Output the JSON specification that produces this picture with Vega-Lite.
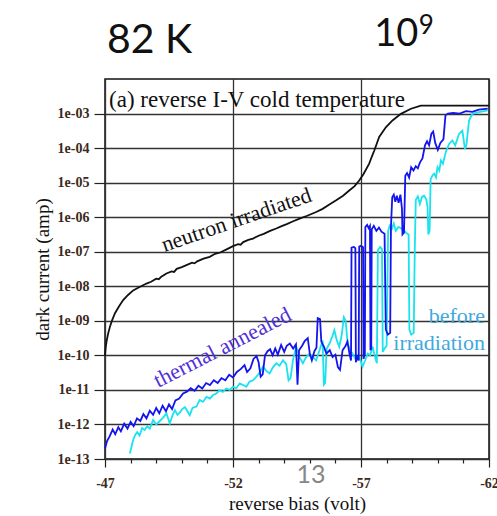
{
  "$schema": "https://vega.github.io/schema/vega-lite/v6.json",
  "autosize": {"type": "none"},
  "padding": {"left": 105, "top": 79, "right": 8, "bottom": 57},
  "width": 384,
  "height": 380,
  "background": "white",
  "config": {
    "view": {"stroke": "#111", "strokeWidth": 1.5},
    "axis": {"labelOverlap": false, "labelFlush": false}
  },
  "datasets": {
    "neutron": [
      {"bias": -47.00, "current": 1.0e-10}, {"bias": -47.03, "current": 1.8e-10}, {"bias": -47.07, "current": 2.75e-10},
      {"bias": -47.12, "current": 4.2e-10}, {"bias": -47.19, "current": 6.6e-10}, {"bias": -47.28, "current": 1.05e-9},
      {"bias": -47.39, "current": 1.66e-9}, {"bias": -47.55, "current": 2.63e-9}, {"bias": -47.71, "current": 3.98e-9},
      {"bias": -47.90, "current": 5.6e-9}, {"bias": -48.10, "current": 7.6e-9}, {"bias": -48.35, "current": 9.5e-9},
      {"bias": -48.62, "current": 1.2e-8}, {"bias": -48.80, "current": 1.35e-8}, {"bias": -49.00, "current": 1.66e-8},
      {"bias": -49.10, "current": 1.6e-8}, {"bias": -49.20, "current": 1.9e-8}, {"bias": -49.40, "current": 2.35e-8},
      {"bias": -49.60, "current": 2.7e-8}, {"bias": -49.70, "current": 2.6e-8}, {"bias": -49.80, "current": 3.2e-8},
      {"bias": -50.00, "current": 3.6e-8}, {"bias": -50.18, "current": 4.1e-8}, {"bias": -50.40, "current": 4.8e-8},
      {"bias": -50.50, "current": 4.6e-8}, {"bias": -50.60, "current": 5.25e-8}, {"bias": -50.85, "current": 6.3e-8},
      {"bias": -51.09, "current": 7.1e-8}, {"bias": -51.30, "current": 8.7e-8}, {"bias": -51.50, "current": 9.5e-8},
      {"bias": -51.75, "current": 1.17e-7}, {"bias": -52.00, "current": 1.45e-7}, {"bias": -52.20, "current": 1.66e-7},
      {"bias": -52.30, "current": 1.6e-7}, {"bias": -52.40, "current": 1.9e-7}, {"bias": -52.60, "current": 2.2e-7},
      {"bias": -52.78, "current": 2.4e-7}, {"bias": -53.00, "current": 2.9e-7}, {"bias": -53.20, "current": 3.3e-7},
      {"bias": -53.45, "current": 4.0e-7}, {"bias": -53.69, "current": 4.7e-7}, {"bias": -53.90, "current": 5.5e-7},
      {"bias": -54.10, "current": 6.3e-7}, {"bias": -54.35, "current": 7.6e-7}, {"bias": -54.60, "current": 9.1e-7},
      {"bias": -54.90, "current": 1.1e-6}, {"bias": -55.25, "current": 1.41e-6}, {"bias": -55.50, "current": 1.74e-6},
      {"bias": -55.75, "current": 2.3e-6}, {"bias": -56.03, "current": 3.1e-6}, {"bias": -56.30, "current": 4.2e-6},
      {"bias": -56.54, "current": 5.9e-6}, {"bias": -56.75, "current": 7.9e-6}, {"bias": -56.93, "current": 1.15e-5},
      {"bias": -57.10, "current": 1.78e-5}, {"bias": -57.32, "current": 3.55e-5}, {"bias": -57.42, "current": 5.6e-5},
      {"bias": -57.52, "current": 8.5e-5}, {"bias": -57.71, "current": 2.1e-4}, {"bias": -57.97, "current": 4.0e-4},
      {"bias": -58.23, "current": 6.3e-4}, {"bias": -58.56, "current": 9.8e-4}, {"bias": -58.95, "current": 1.38e-3},
      {"bias": -59.34, "current": 1.7e-3}, {"bias": -62.00, "current": 1.7e-3}
    ],
    "annealed": [
      {"bias": -47.00, "current": 2.0e-13}, {"bias": -47.08, "current": 3.3e-13}, {"bias": -47.18, "current": 4.5e-13},
      {"bias": -47.30, "current": 7.1e-13}, {"bias": -47.40, "current": 5.2e-13}, {"bias": -47.52, "current": 8.3e-13},
      {"bias": -47.62, "current": 6.3e-13}, {"bias": -47.75, "current": 1.05e-12}, {"bias": -47.88, "current": 7.6e-13},
      {"bias": -48.00, "current": 1.2e-12}, {"bias": -48.12, "current": 8.9e-13}, {"bias": -48.25, "current": 1.5e-12},
      {"bias": -48.38, "current": 1.26e-12}, {"bias": -48.50, "current": 2.0e-12}, {"bias": -48.62, "current": 1.5e-12},
      {"bias": -48.75, "current": 2.5e-12}, {"bias": -48.88, "current": 1.9e-12}, {"bias": -49.00, "current": 3.0e-12},
      {"bias": -49.12, "current": 2.1e-12}, {"bias": -49.25, "current": 3.5e-12}, {"bias": -49.38, "current": 2.4e-12},
      {"bias": -49.50, "current": 3.8e-12}, {"bias": -49.62, "current": 2.8e-12}, {"bias": -49.75, "current": 5.0e-12},
      {"bias": -49.90, "current": 5.6e-12}, {"bias": -50.05, "current": 7.9e-12}, {"bias": -50.20, "current": 8.9e-12},
      {"bias": -50.35, "current": 1.12e-11}, {"bias": -50.50, "current": 9.5e-12}, {"bias": -50.65, "current": 1.32e-11},
      {"bias": -50.80, "current": 1.1e-11}, {"bias": -50.95, "current": 1.58e-11}, {"bias": -51.10, "current": 1.38e-11},
      {"bias": -51.25, "current": 1.9e-11}, {"bias": -51.40, "current": 1.58e-11}, {"bias": -51.55, "current": 2.2e-11},
      {"bias": -51.70, "current": 1.9e-11}, {"bias": -51.85, "current": 2.75e-11}, {"bias": -52.00, "current": 2.3e-11},
      {"bias": -52.15, "current": 3.3e-11}, {"bias": -52.30, "current": 4.0e-11}, {"bias": -52.45, "current": 5.2e-11},
      {"bias": -52.55, "current": 3.3e-11}, {"bias": -52.68, "current": 4.2e-11}, {"bias": -52.80, "current": 7.9e-11},
      {"bias": -52.92, "current": 9.5e-11}, {"bias": -53.00, "current": 6.3e-11}, {"bias": -53.08, "current": 2.4e-11},
      {"bias": -53.16, "current": 2.8e-11}, {"bias": -53.25, "current": 1.0e-10}, {"bias": -53.35, "current": 1.32e-10},
      {"bias": -53.45, "current": 1.5e-10}, {"bias": -53.55, "current": 1.0e-10}, {"bias": -53.65, "current": 1.58e-10},
      {"bias": -53.75, "current": 1.05e-10}, {"bias": -53.88, "current": 2.0e-10}, {"bias": -54.00, "current": 1.26e-10},
      {"bias": -54.10, "current": 1.9e-10}, {"bias": -54.22, "current": 2.2e-10}, {"bias": -54.35, "current": 1.58e-10},
      {"bias": -54.46, "current": 2.1e-10}, {"bias": -54.52, "current": 1.41e-11}, {"bias": -54.58, "current": 1.41e-10},
      {"bias": -54.70, "current": 1.9e-10}, {"bias": -54.80, "current": 2.6e-10}, {"bias": -54.92, "current": 3.16e-10},
      {"bias": -55.00, "current": 1.12e-10}, {"bias": -55.08, "current": 7.2e-11}, {"bias": -55.18, "current": 1.32e-10},
      {"bias": -55.26, "current": 1.66e-10}, {"bias": -55.31, "current": 1.2e-9}, {"bias": -55.40, "current": 1.12e-9},
      {"bias": -55.45, "current": 2.5e-10}, {"bias": -55.55, "current": 1.78e-10}, {"bias": -55.65, "current": 1.12e-10},
      {"bias": -55.78, "current": 1.41e-10}, {"bias": -55.89, "current": 8.9e-11}, {"bias": -56.00, "current": 1.05e-10},
      {"bias": -56.10, "current": 4.5e-11}, {"bias": -56.18, "current": 3.8e-11}, {"bias": -56.28, "current": 1.41e-10},
      {"bias": -56.40, "current": 1.9e-10}, {"bias": -56.47, "current": 2.5e-10}, {"bias": -56.55, "current": 1.12e-10},
      {"bias": -56.61, "current": 7.1e-11}, {"bias": -56.63, "current": 1.32e-7}, {"bias": -56.72, "current": 1.38e-7},
      {"bias": -56.78, "current": 1.26e-7}, {"bias": -56.80, "current": 6.3e-11}, {"bias": -56.86, "current": 8.9e-11},
      {"bias": -56.91, "current": 7.1e-11}, {"bias": -56.93, "current": 1.41e-7}, {"bias": -57.00, "current": 1.48e-7},
      {"bias": -57.08, "current": 1.35e-7}, {"bias": -57.10, "current": 7.9e-11}, {"bias": -57.15, "current": 1.12e-10},
      {"bias": -57.17, "current": 5.2e-7}, {"bias": -57.24, "current": 6.0e-7}, {"bias": -57.30, "current": 4.8e-7},
      {"bias": -57.35, "current": 5.6e-7}, {"bias": -57.37, "current": 1.41e-10}, {"bias": -57.40, "current": 1.58e-10},
      {"bias": -57.42, "current": 4.5e-7}, {"bias": -57.50, "current": 5.6e-7}, {"bias": -57.60, "current": 4.0e-7},
      {"bias": -57.70, "current": 5.0e-7}, {"bias": -57.80, "current": 3.8e-7}, {"bias": -57.92, "current": 3.3e-7},
      {"bias": -57.97, "current": 5.6e-10}, {"bias": -58.05, "current": 4.0e-10}, {"bias": -58.14, "current": 4.5e-10},
      {"bias": -58.17, "current": 5.2e-7}, {"bias": -58.22, "current": 3.8e-6}, {"bias": -58.28, "current": 4.5e-6},
      {"bias": -58.34, "current": 2.8e-6}, {"bias": -58.40, "current": 4.2e-6}, {"bias": -58.47, "current": 2.6e-6},
      {"bias": -58.54, "current": 4.5e-6}, {"bias": -58.60, "current": 1.78e-6}, {"bias": -58.62, "current": 3.16e-7},
      {"bias": -58.68, "current": 3.55e-7}, {"bias": -58.73, "current": 1.58e-5}, {"bias": -58.80, "current": 1.9e-5},
      {"bias": -58.88, "current": 1.41e-5}, {"bias": -58.96, "current": 2.8e-5}, {"bias": -59.05, "current": 2.24e-5},
      {"bias": -59.14, "current": 3.0e-5}, {"bias": -59.22, "current": 2.6e-5}, {"bias": -59.30, "current": 3.8e-5},
      {"bias": -59.40, "current": 5.0e-5}, {"bias": -59.50, "current": 1.2e-4}, {"bias": -59.58, "current": 1.58e-4},
      {"bias": -59.66, "current": 1.2e-4}, {"bias": -59.75, "current": 2.6e-4}, {"bias": -59.82, "current": 3.0e-4},
      {"bias": -59.90, "current": 1.41e-4}, {"bias": -60.00, "current": 8.9e-5}, {"bias": -60.10, "current": 1.41e-4},
      {"bias": -60.22, "current": 1.78e-4}, {"bias": -60.30, "current": 8.9e-4}, {"bias": -60.40, "current": 1.0e-3},
      {"bias": -60.60, "current": 1.05e-3}, {"bias": -60.85, "current": 1.0e-3}, {"bias": -61.10, "current": 1.17e-3},
      {"bias": -61.35, "current": 1.12e-3}, {"bias": -61.60, "current": 1.29e-3}, {"bias": -61.95, "current": 1.38e-3}
    ],
    "before": [
      {"bias": -47.97, "current": 1.45e-13}, {"bias": -48.05, "current": 2.5e-13}, {"bias": -48.10, "current": 3.55e-13},
      {"bias": -48.18, "current": 5.0e-13}, {"bias": -48.26, "current": 6.0e-13}, {"bias": -48.35, "current": 4.8e-13},
      {"bias": -48.45, "current": 7.9e-13}, {"bias": -48.55, "current": 6.9e-13}, {"bias": -48.65, "current": 8.9e-13},
      {"bias": -48.75, "current": 7.6e-13}, {"bias": -48.88, "current": 1.35e-12}, {"bias": -49.00, "current": 1.0e-12},
      {"bias": -49.14, "current": 1.26e-12}, {"bias": -49.27, "current": 1.58e-12}, {"bias": -49.40, "current": 2.1e-12},
      {"bias": -49.53, "current": 1.07e-12}, {"bias": -49.63, "current": 1.78e-12}, {"bias": -49.73, "current": 2.6e-12},
      {"bias": -49.83, "current": 1.9e-12}, {"bias": -49.92, "current": 2.2e-12}, {"bias": -50.02, "current": 2.8e-12},
      {"bias": -50.12, "current": 3.2e-12}, {"bias": -50.22, "current": 2.4e-12}, {"bias": -50.31, "current": 1.86e-12},
      {"bias": -50.42, "current": 3.0e-12}, {"bias": -50.57, "current": 3.3e-12}, {"bias": -50.70, "current": 5.1e-12},
      {"bias": -50.83, "current": 4.5e-12}, {"bias": -50.96, "current": 6.3e-12}, {"bias": -51.10, "current": 5.6e-12},
      {"bias": -51.22, "current": 7.1e-12}, {"bias": -51.35, "current": 7.9e-12}, {"bias": -51.48, "current": 9.8e-12},
      {"bias": -51.60, "current": 8.7e-12}, {"bias": -51.74, "current": 1.1e-11}, {"bias": -51.87, "current": 1.0e-11},
      {"bias": -52.00, "current": 1.23e-11}, {"bias": -52.13, "current": 1.12e-11}, {"bias": -52.26, "current": 1.55e-11},
      {"bias": -52.40, "current": 1.38e-11}, {"bias": -52.52, "current": 1.23e-11}, {"bias": -52.65, "current": 1.74e-11},
      {"bias": -52.78, "current": 1.9e-11}, {"bias": -52.91, "current": 2.4e-11}, {"bias": -53.04, "current": 3.16e-11},
      {"bias": -53.17, "current": 4.7e-11}, {"bias": -53.30, "current": 3.55e-11}, {"bias": -53.43, "current": 3.0e-11},
      {"bias": -53.56, "current": 4.5e-11}, {"bias": -53.69, "current": 5.9e-11}, {"bias": -53.82, "current": 5.0e-11},
      {"bias": -53.95, "current": 7.2e-11}, {"bias": -54.08, "current": 5.6e-11}, {"bias": -54.17, "current": 1.9e-11},
      {"bias": -54.25, "current": 2.24e-11}, {"bias": -54.35, "current": 7.9e-11}, {"bias": -54.47, "current": 1.78e-10},
      {"bias": -54.60, "current": 8.9e-11}, {"bias": -54.73, "current": 5.9e-11}, {"bias": -54.86, "current": 8.9e-11},
      {"bias": -54.99, "current": 1.12e-10}, {"bias": -55.12, "current": 8.9e-11}, {"bias": -55.25, "current": 7.2e-11},
      {"bias": -55.38, "current": 1.41e-10}, {"bias": -55.50, "current": 2.75e-10}, {"bias": -55.55, "current": 1.41e-11},
      {"bias": -55.60, "current": 1.58e-11}, {"bias": -55.66, "current": 1.58e-10}, {"bias": -55.77, "current": 2.2e-10},
      {"bias": -55.88, "current": 3.55e-10}, {"bias": -55.96, "current": 5.4e-10}, {"bias": -56.05, "current": 2.8e-10},
      {"bias": -56.15, "current": 1.78e-10}, {"bias": -56.25, "current": 4.0e-10}, {"bias": -56.33, "current": 1.26e-9},
      {"bias": -56.40, "current": 1.0e-9}, {"bias": -56.48, "current": 2.2e-10}, {"bias": -56.58, "current": 1.41e-10},
      {"bias": -56.67, "current": 1.12e-10}, {"bias": -56.81, "current": 7.2e-11}, {"bias": -56.94, "current": 8.9e-11},
      {"bias": -57.06, "current": 4.7e-11}, {"bias": -57.16, "current": 7.1e-11}, {"bias": -57.26, "current": 1.12e-10},
      {"bias": -57.36, "current": 1.0e-10}, {"bias": -57.45, "current": 1.78e-10}, {"bias": -57.55, "current": 8.9e-11},
      {"bias": -57.62, "current": 5.9e-11}, {"bias": -57.66, "current": 1.12e-7}, {"bias": -57.75, "current": 1.38e-7},
      {"bias": -57.82, "current": 1.2e-7}, {"bias": -57.85, "current": 1.26e-10}, {"bias": -57.92, "current": 1.58e-10},
      {"bias": -58.00, "current": 1.9e-10}, {"bias": -58.06, "current": 4.0e-7}, {"bias": -58.12, "current": 5.6e-7},
      {"bias": -58.20, "current": 4.5e-7}, {"bias": -58.28, "current": 6.6e-7}, {"bias": -58.36, "current": 4.0e-7},
      {"bias": -58.46, "current": 5.2e-7}, {"bias": -58.56, "current": 4.8e-7}, {"bias": -58.66, "current": 4.2e-7},
      {"bias": -58.76, "current": 3.55e-7}, {"bias": -58.86, "current": 3.16e-7}, {"bias": -58.89, "current": 5.6e-10},
      {"bias": -58.96, "current": 4.0e-10}, {"bias": -59.06, "current": 4.5e-10}, {"bias": -59.10, "current": 1.12e-7},
      {"bias": -59.14, "current": 3.16e-6}, {"bias": -59.22, "current": 4.0e-6}, {"bias": -59.30, "current": 2.4e-6},
      {"bias": -59.38, "current": 3.8e-6}, {"bias": -59.46, "current": 4.2e-6}, {"bias": -59.55, "current": 3.3e-6},
      {"bias": -59.60, "current": 2.0e-6}, {"bias": -59.63, "current": 3.16e-7}, {"bias": -59.68, "current": 4.0e-7},
      {"bias": -59.72, "current": 1.26e-5}, {"bias": -59.80, "current": 1.66e-5}, {"bias": -59.86, "current": 1.82e-5},
      {"bias": -59.93, "current": 1.41e-5}, {"bias": -59.99, "current": 2.8e-5}, {"bias": -60.06, "current": 2.24e-5},
      {"bias": -60.12, "current": 4.4e-5}, {"bias": -60.20, "current": 3.55e-5}, {"bias": -60.31, "current": 7.6e-5},
      {"bias": -60.44, "current": 1.32e-4}, {"bias": -60.57, "current": 1.66e-4}, {"bias": -60.68, "current": 1.2e-4},
      {"bias": -60.83, "current": 2.57e-4}, {"bias": -60.96, "current": 3.2e-4}, {"bias": -61.06, "current": 9.5e-5},
      {"bias": -61.12, "current": 1.26e-4}, {"bias": -61.22, "current": 6.3e-4}, {"bias": -61.35, "current": 9.8e-4},
      {"bias": -61.61, "current": 1.1e-3}, {"bias": -61.95, "current": 1.23e-3}
    ]
  },
  "encoding": {
    "x": {
      "field": "bias", "type": "quantitative",
      "scale": {"domain": [-62, -47], "reverse": true, "nice": false, "zero": false},
      "axis": {
        "title": "reverse bias (volt)",
        "values": [-47, -48, -49, -50, -51, -52, -53, -54, -55, -56, -57, -58, -59, -60, -61, -62],
        "labelExpr": "(datum.value + 47) % 5 === 0 ? toString(datum.value) : ''",
        "tickSize": {"condition": {"test": "(datum.value + 47) % 5 === 0", "value": 8}, "value": 4},
        "tickColor": "#222", "tickWidth": 1.2,
        "grid": true,
        "gridColor": {"condition": {"test": "(datum.value + 47) % 5 === 0", "value": "#333"}, "value": "rgba(0,0,0,0)"},
        "gridWidth": 1.3,
        "domain": false,
        "labelFont": "Liberation Serif", "labelFontSize": 14, "labelFontWeight": "bold", "labelColor": "#3a2a20",
        "labelPadding": 9,
        "titleFont": "Liberation Serif", "titleFontSize": 19, "titleFontWeight": "normal", "titleColor": "#111",
        "titlePadding": 4
      }
    },
    "y": {
      "field": "current", "type": "quantitative",
      "scale": {"type": "log", "domain": [1e-13, 1e-2], "nice": false},
      "axis": {
        "title": "dark current (amp)",
        "values": [1e-13, 1e-12, 1e-11, 1e-10, 1e-9, 1e-8, 1e-7, 1e-6, 1e-5, 1e-4, 1e-3],
        "labelExpr": "datum.value < 5e-10 ? '1e-' + round(-log(datum.value) / LN10) : '1e-0' + round(-log(datum.value) / LN10)",
        "tickSize": 11, "tickColor": "#222", "tickWidth": 1.2,
        "grid": true, "gridColor": "#333", "gridWidth": 1.3,
        "domain": false,
        "labelFont": "Liberation Serif", "labelFontSize": 14, "labelFontWeight": "bold", "labelColor": "#3a2a20",
        "labelPadding": 5,
        "titleFont": "Liberation Serif", "titleFontSize": 19, "titleFontWeight": "normal", "titleColor": "#111",
        "titlePadding": 5
      }
    }
  },
  "layer": [
    {"data": {"name": "before"}, "mark": {"type": "line", "color": "#19e3ee", "strokeWidth": 1.8}},
    {"data": {"name": "annealed"}, "mark": {"type": "line", "color": "#1414ee", "strokeWidth": 1.8}},
    {"data": {"name": "neutron"}, "mark": {"type": "line", "color": "#111111", "strokeWidth": 1.8}},
    {
      "data": {"values": [{"bias": -47.16, "current": 0.00158, "note": "(a) reverse I-V cold temperature"}]},
      "mark": {"type": "text", "align": "left", "baseline": "alphabetic", "font": "Liberation Serif", "fontSize": 23, "color": "#111"},
      "encoding": {"text": {"field": "note"}}
    },
    {
      "data": {"values": [{"bias": -52.22, "current": 5.4e-7, "note": "neutron irradiated"}]},
      "mark": {"type": "text", "align": "center", "baseline": "alphabetic", "angle": 341, "font": "Liberation Serif", "fontSize": 22, "color": "#111"},
      "encoding": {"text": {"field": "note"}}
    },
    {
      "data": {"values": [{"bias": -51.71, "current": 1.12e-10, "note": "thermal annealed"}]},
      "mark": {"type": "text", "align": "center", "baseline": "alphabetic", "angle": 333, "font": "Liberation Serif", "fontSize": 22, "color": "#5030d8"},
      "encoding": {"text": {"field": "note"}}
    },
    {
      "data": {"values": [{"bias": -61.84, "current": 8.5e-10, "note": "before"}, {"bias": -61.84, "current": 1.41e-10, "note": "irradiation"}]},
      "mark": {"type": "text", "align": "right", "baseline": "alphabetic", "font": "Liberation Serif", "fontSize": 22, "color": "#3fa9dc"},
      "encoding": {"text": {"field": "note"}}
    },
    {
      "data": {"values": [{"bias": -47.08, "current": 0.058, "note": "82 K"}]},
      "mark": {"type": "text", "align": "left", "baseline": "alphabetic", "font": "Lato", "fontSize": 41, "color": "#111"},
      "encoding": {"text": {"field": "note"}}
    },
    {
      "data": {"values": [{"bias": -57.52, "current": 0.0923, "note": "10"}]},
      "mark": {"type": "text", "align": "left", "baseline": "alphabetic", "font": "Lato", "fontSize": 38, "color": "#111"},
      "encoding": {"text": {"field": "note"}}
    },
    {
      "data": {"values": [{"bias": -59.26, "current": 0.205, "note": "9"}]},
      "mark": {"type": "text", "align": "left", "baseline": "alphabetic", "font": "Lato", "fontSize": 26, "color": "#111"},
      "encoding": {"text": {"field": "note"}}
    },
    {
      "data": {"values": [{"bias": -54.48, "current": 2.02e-14, "note": "13"}]},
      "mark": {"type": "text", "align": "left", "baseline": "alphabetic", "font": "Lato", "fontSize": 25, "color": "#878787"},
      "encoding": {"text": {"field": "note"}}
    }
  ]
}
